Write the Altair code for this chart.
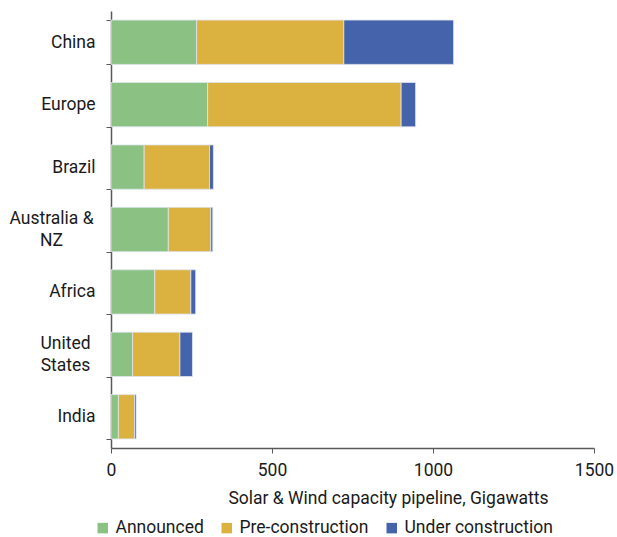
import altair as alt
import pandas as pd

regions = ["China", "Europe", "Brazil", "Australia & NZ", "Africa", "United States", "India"]
region_labels = ["China", "Europe", "Brazil", "Australia &\nNZ", "Africa", "United\nStates", "India"]
stages = ["Announced", "Pre-construction", "Under construction"]
announced = [266, 300, 103, 178, 136, 67, 23]
pre_construction = [457, 601, 203, 132, 112, 147, 50]
under_construction = [341, 45, 12, 6, 15, 39, 5]
colors = ["#8BC183", "#DBB240", "#4563AA"]

rows = []
for i, r in enumerate(regions):
    for k, (s, vals) in enumerate(zip(stages, [announced, pre_construction, under_construction])):
        rows.append({"region": region_labels[i], "stage": s, "order": k, "gw": vals[i]})
df = pd.DataFrame(rows)

FONT = "Roboto"
TEXT = "#1a1a1a"
MULTI = "indexof(datum.label, '\\n') >= 0"

chart = (
    alt.Chart(df)
    .mark_bar(stroke="#dfe5f0", strokeWidth=0.8)
    .encode(
        y=alt.Y(
            "region:N",
            sort=region_labels,
            scale=alt.Scale(paddingInner=0.29, paddingOuter=0.145),
            axis=alt.Axis(
                title=None,
                labelExpr="split(datum.label, '\\n')",
                # two-line labels: centred lines, block lifted onto its bar
                labelAlign={"condition": {"test": MULTI, "value": "center"}, "value": "right"},
                labelOffset={"condition": {"test": MULTI, "value": -11}, "value": 0},
                labelPadding={
                    "condition": [
                        {"test": "indexof(datum.label, 'Australia') >= 0", "value": 55},
                        {"test": "indexof(datum.label, 'United') >= 0", "value": 41},
                    ],
                    "value": 11,
                },
                labelFontSize=17.5,
                labelColor=TEXT,
                labelFont=FONT,
                labelLineHeight=22,
                tickBand="extent",
                tickSize=5,
                tickColor="#595959",
                domainColor="#595959",
                domainWidth=1.5,
            ),
        ),
        x=alt.X(
            "gw:Q",
            stack="zero",
            scale=alt.Scale(domain=[0, 1500], nice=False),
            axis=alt.Axis(
                values=[0, 500, 1000, 1500],
                format="d",
                title="Solar & Wind capacity pipeline, Gigawatts",
                titleFont=FONT,
                titleFontSize=17.5,
                titleFontWeight="normal",
                titleColor=TEXT,
                titleX=277,
                titleY=50,
                titleBaseline="middle",
                titleAlign="center",
                labelFont=FONT,
                labelFontSize=17.5,
                labelColor=TEXT,
                labelPadding=8,
                labelFlush=False,
                tickSize=5,
                tickColor="#595959",
                domainColor="#595959",
                domainWidth=1.5,
                grid=False,
            ),
        ),
        color=alt.Color(
            "stage:N",
            sort=stages,
            scale=alt.Scale(domain=stages, range=colors),
            legend=alt.Legend(
                title=None,
                orient="none",
                direction="horizontal",
                legendX=-17,
                legendY=508,
                symbolType="square",
                symbolSize=110,
                symbolStrokeWidth=0,
                labelFont=FONT,
                labelFontSize=17.5,
                labelColor=TEXT,
                columnPadding=14,
                labelOffset=4,
            ),
        ),
        order=alt.Order("order:Q", sort="ascending"),
    )
    .properties(
        width=483,
        height=437,
        autosize=alt.AutoSizeParams(type="none"),
        padding={"left": 111, "top": 11, "right": 23, "bottom": 89},
    )
    .configure_view(stroke=None)
)

chart.save("out.html", embed_options={"renderer": "svg", "actions": False})
